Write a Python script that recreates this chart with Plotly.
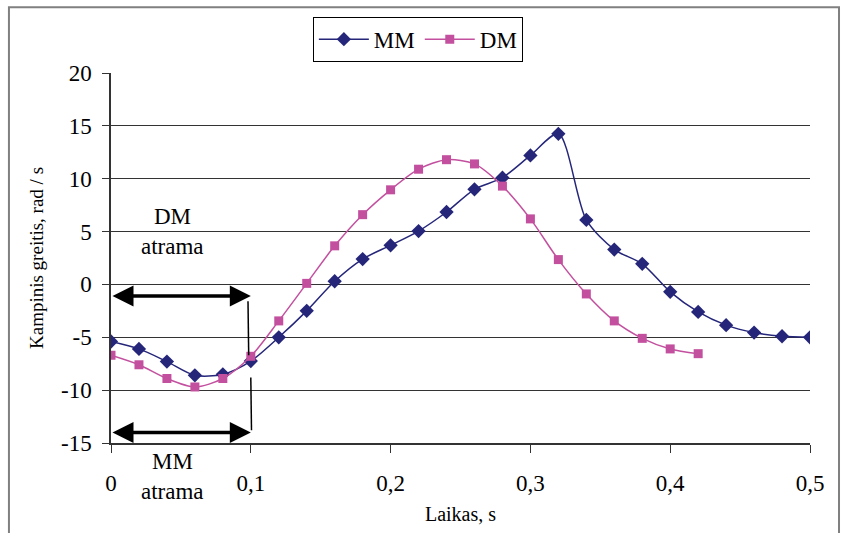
import plotly.graph_objects as go

time_s = [round(0.02 * i, 2) for i in range(26)]
mm_values = [-5.4, -6.1, -7.3, -8.6, -8.5, -7.25, -5.0, -2.5, 0.3, 2.4, 3.7, 5.05, 6.85,
             9.0, 10.1, 12.2, 14.25, 6.1, 3.3, 1.95, -0.7, -2.6, -3.85, -4.55, -4.9, -5.0]
dm_time = time_s[:22]
dm_values = [-6.7, -7.6, -8.9, -9.7, -8.9, -6.8, -3.45, 0.1, 3.65, 6.6, 8.95, 10.9, 11.8,
             11.4, 9.3, 6.2, 2.35, -0.9, -3.45, -5.1, -6.1, -6.55]

x_tickvals = [0, 0.1, 0.2, 0.3, 0.4, 0.5]
x_ticktext = ["0", "0,1", "0,2", "0,3", "0,4", "0,5"]
y_tickvals = [-15, -10, -5, 0, 5, 10, 15, 20]
y_ticktext = ["-15", "-10", "-5", "0", "5", "10", "15", "20"]

FONT = "Liberation Serif"
MM_COLOR = "#25267A"
DM_COLOR = "#C3509F"

fig = go.Figure()
fig.add_trace(go.Scatter(
    x=time_s, y=mm_values, name="MM", mode="lines+markers",
    line=dict(color=MM_COLOR, width=1.5, shape="spline", smoothing=0.8),
    marker=dict(symbol="diamond", size=11, color=MM_COLOR),
))
fig.add_trace(go.Scatter(
    x=dm_time, y=dm_values, name="DM", mode="lines+markers",
    line=dict(color=DM_COLOR, width=1.5, shape="spline", smoothing=0.8),
    marker=dict(symbol="square", size=9, color=DM_COLOR),
))

# support-phase arrows (double-headed)
arrow_dm_y = -1.1
arrow_mm_y = -14.0
for yv in (arrow_dm_y, arrow_mm_y):
    fig.add_annotation(x=0.1, y=yv, ax=0.0, ay=yv, xref="x", yref="y", axref="x", ayref="y",
                       text="", showarrow=True, arrowhead=2, arrowside="end+start",
                       arrowsize=1.2, arrowwidth=3.5, arrowcolor="black")

# vertical connectors
fig.add_shape(type="line", x0=0.098, x1=0.0985, y0=-1.6, y1=-6.7, xref="x", yref="y",
              line=dict(color="black", width=1.5))
fig.add_shape(type="line", x0=0.1, x1=0.1005, y0=-8.8, y1=-13.8, xref="x", yref="y",
              line=dict(color="black", width=1.5))

# labels
label_font = dict(family=FONT, size=23, color="black")
fig.add_annotation(x=0.044, y=6.4, text="DM", showarrow=False, xref="x", yref="y", font=label_font)
fig.add_annotation(x=0.044, y=3.6, text="atrama", showarrow=False, xref="x", yref="y", font=label_font)
fig.add_annotation(x=0.044, y=-0.051, text="MM", showarrow=False, xref="x", yref="paper",
                   xanchor="center", yanchor="middle", font=label_font)
fig.add_annotation(x=0.044, y=-0.13, text="atrama", showarrow=False, xref="x", yref="paper",
                   xanchor="center", yanchor="middle", font=label_font)

# outer frame
fig.add_shape(type="rect", xref="paper", yref="paper",
              x0=-0.146, x1=1.0415, y0=-0.27, y1=1.178,
              line=dict(color="#808080", width=2))

fig.update_layout(
    width=841, height=533,
    margin=dict(l=111, r=31, t=73, b=90),
    paper_bgcolor="white", plot_bgcolor="white",
    font=dict(family=FONT, size=22, color="black"),
    showlegend=True,
    legend=dict(orientation="h", x=0.439, y=1.152, xanchor="center", yanchor="top",
                bordercolor="black", borderwidth=1, bgcolor="white",
                font=dict(family=FONT, size=23), itemwidth=50, tracegroupgap=0),
    xaxis=dict(range=[0, 0.5], tickvals=x_tickvals, ticktext=x_ticktext,
               tickfont=dict(family=FONT, size=23),
               showgrid=False, zeroline=False, showline=True, linecolor="#333333", linewidth=1.5,
               ticks="outside", ticklen=8, tickcolor="#333333", ticklabelstandoff=11,
               title=dict(text="Laikas, s", font=dict(family=FONT, size=20), standoff=12)),
    yaxis=dict(range=[-15, 20], tickvals=y_tickvals, ticktext=y_ticktext,
               tickfont=dict(family=FONT, size=23),
               showgrid=True, gridcolor="#333333", gridwidth=1, zeroline=False,
               showline=True, linecolor="#333333", linewidth=1.5,
               ticks="outside", ticklen=7, tickcolor="#333333", ticklabelstandoff=6,
               title=dict(text="Kampinis greitis, rad / s", font=dict(family=FONT, size=19), standoff=12)),
)

fig.write_html("out.html", config={"displayModeBar": False},
               post_script="document.body.style.margin='0';document.body.style.overflow='hidden';")
